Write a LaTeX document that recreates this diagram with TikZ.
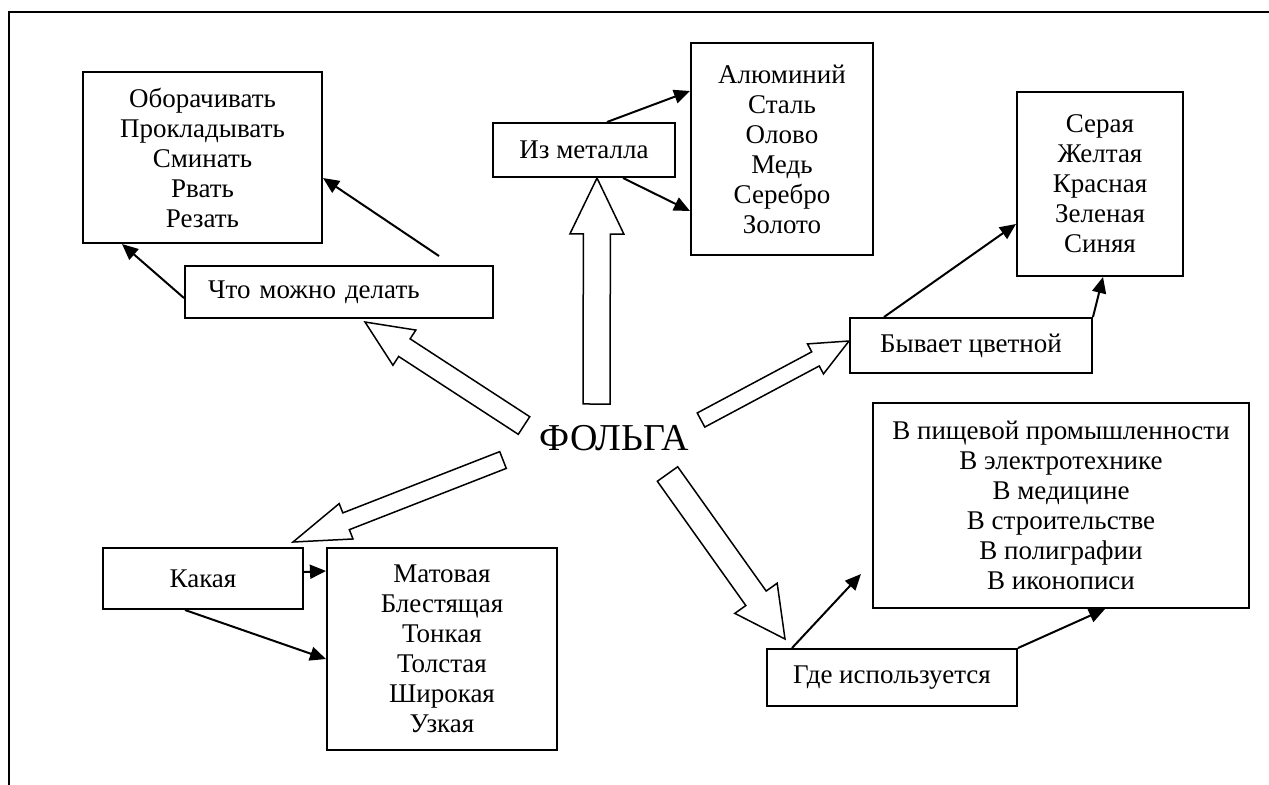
\documentclass[tikz,border=0pt]{standalone}
\usepackage{fontspec}
\setmainfont{Liberation Serif}
\usetikzlibrary{calc,arrows.meta}
\tikzset{
  box/.style={draw, line width=1pt, rectangle, inner sep=0pt, align=center,
    font=\fontsize{13.5}{15}\selectfont},
  boxsize/.style n args={2}{minimum width=#1, minimum height=#2},
  conn/.style={line width=1pt, -{Triangle[length=8pt,width=7pt]}},
  hollowarrow/.style={draw, line width=0.75pt, fill=white, line join=miter},
  frame/.style={line width=1.2pt},
}
\newcommand{\hollowarr}[5]{%
  \coordinate (hb) at ($(#2)!#5!(#1)$);
  \draw[hollowarrow] ($(#1)!#3!90:(#2)$) -- ($(hb)!#3!90:(#2)$) -- ($(hb)!#4!90:(#2)$) -- (#2)
    -- ($(hb)!#4!-90:(#2)$) -- ($(hb)!#3!-90:(#2)$) -- ($(#1)!#3!-90:(#2)$) -- cycle;}
\begin{document}
\begin{tikzpicture}[x=0.5pt, y=-0.5pt]
\useasboundingbox (0,0) rectangle (1269,784);
\draw[frame] (1270,12) -- (9,12) -- (9,785);

% nodes
\node[box, boxsize={119.5pt}{85.5pt}] (act) at (202.5,157.5)
  {Оборачивать\\Прокладывать\\Сминать\\Рвать\\Резать};
\node[box, minimum height=26pt, text width=131pt, inner xsep=11.5pt, align=left] (what) at (339,292)
  {Что можно делать};
\node[box, boxsize={91pt}{27pt}] (met) at (584,150) {Из металла};
\node[box, boxsize={91pt}{106pt}] (metals) at (782,149)
  {Алюминий\\Сталь\\Олово\\Медь\\Серебро\\Золото};
\node[box, boxsize={83pt}{92pt}] (colors) at (1100,184)
  {Серая\\Желтая\\Красная\\Зеленая\\Синяя};
\node[box, boxsize={121pt}{27.5pt}] (colored) at (971,345.5) {Бывает цветной};
\node[box, boxsize={188pt}{102.5pt}] (use) at (1061,505.5)
  {В пищевой промышленности\\В электротехнике\\В медицине\\В строительстве\\В полиграфии\\В иконописи};
\node[box, boxsize={125pt}{28.5pt}] (where) at (892,677.5) {Где используется};
\node[box, boxsize={100pt}{30.5pt}] (kak) at (203,578.5) {Какая};
\node[box, boxsize={115pt}{101pt}] (prop) at (442,649)
  {Матовая\\Блестящая\\Тонкая\\Толстая\\Широкая\\Узкая};
\node[font=\fontsize{19}{21}\selectfont, inner sep=0pt] (foil) at (614,438) {ФОЛЬГА};

% hollow arrows from the centre
\coordinate (uT) at (596.5,404); \coordinate (uP) at (597,178);
\coordinate (wT) at (524,425.5); \coordinate (wP) at (365,322);
\coordinate (cT) at (701,420);   \coordinate (cP) at (849,341);
\coordinate (kT) at (503,460);   \coordinate (kP) at (293,542);
\coordinate (gT) at (667.5,474); \coordinate (gP) at (785,639);
\hollowarr{uT}{uP}{6.75pt}{13.5pt}{28pt}
\hollowarr{wT}{wP}{5.25pt}{10.5pt}{23.5pt}
\hollowarr{cT}{cP}{4pt}{8.5pt}{19pt}
\hollowarr{kT}{kP}{4.5pt}{9.5pt}{28.5pt}
\hollowarr{gT}{gP}{6.25pt}{13pt}{25pt}

% thin connectors
\draw[conn] ($(what.west)+(0,6)$) -- ($(act.south west)+(40,0)$);
\coordinate (freeb) at (439,256);
\draw[conn] (freeb) -- ($(act.east)+(0,20.5)$);
\draw[conn] ($(met.north)+(23,0)$) -- ($(metals.north west)+(0,49)$);
\draw[conn] ($(met.south)+(39,0)$) -- ($(metals.north west)+(0,169)$);
\draw[conn] ($(colored.north west)+(35,0)$) -- ($(colors.north west)+(0,133)$);
\draw[conn] (colored.north east) -- ($(colors.south)+(3,0)$);
\coordinate (gtip) at ($(use.south west)+(-11,-35)$);
\draw[conn] ($(where.north west)+(26,0)$) -- (gtip);
\draw[conn] (where.north east) -- ($(use.south)+(44,0)$);
\draw[conn] ($(kak.east)+(0,-6.5)$) -- ($(prop.north west)+(0,24)$);
\draw[conn] ($(kak.south)+(-18,0)$) -- ($(prop.north west)+(0,112)$);
\end{tikzpicture}
\end{document}
